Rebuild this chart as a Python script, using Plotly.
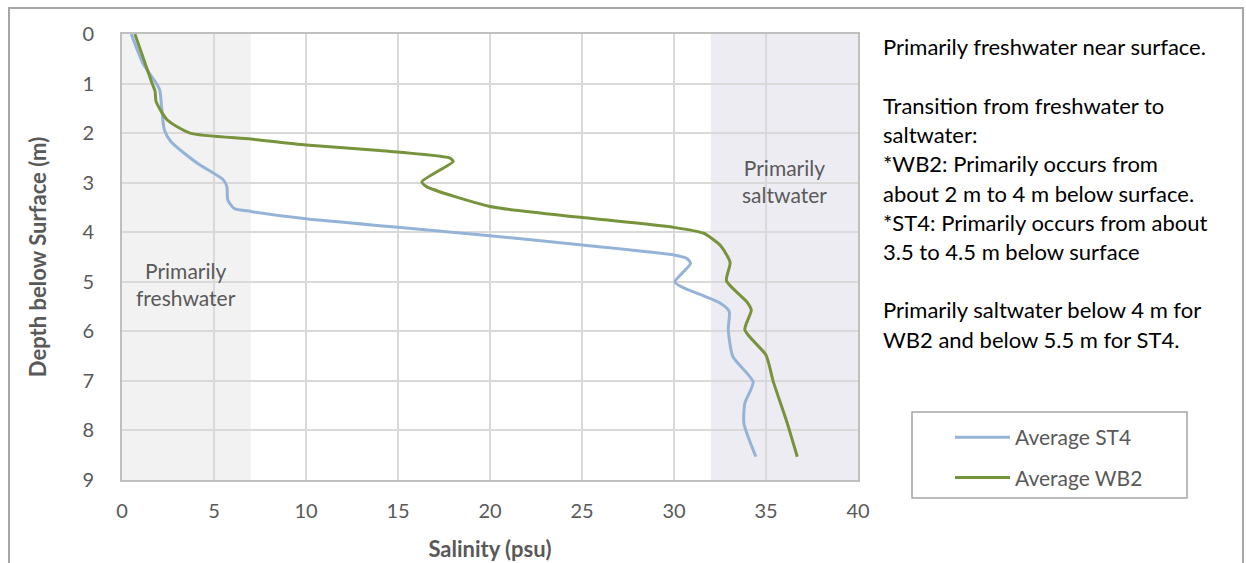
import plotly.graph_objects as go

# ---- data ----
st4_salinity = [0.5, 1.15, 1.8, 2.05, 2.15, 2.3, 2.65, 4.1, 5.5, 5.7, 5.75, 6.1, 7.0, 10.0, 15.0,
                20.0, 25.0, 30.0, 30.7, 30.9, 30.05, 30.4, 32.5, 33.0, 32.95, 33.2, 34.3, 33.85, 33.8, 34.45]
st4_depth = [0.0, 0.6, 0.96, 1.13, 1.46, 1.93, 2.17, 2.61, 2.94, 3.08, 3.35, 3.52, 3.58, 3.73, 3.9,
             4.07, 4.26, 4.46, 4.53, 4.63, 5.0, 5.1, 5.43, 5.6, 5.97, 6.51, 7.02, 7.45, 7.86, 8.53]

wb2_salinity = [0.7, 1.6, 1.8, 1.85, 2.45, 3.7, 7.0, 10.0, 14.0, 17.8, 18.0, 16.3, 16.55, 20.0, 24.9,
                29.95, 31.6, 32.5, 33.05, 32.85, 33.95, 34.2, 33.85, 35.0, 35.4, 36.1, 36.7]
wb2_depth = [0.0, 0.96, 1.16, 1.36, 1.73, 2.0, 2.12, 2.24, 2.35, 2.5, 2.57, 2.98, 3.08, 3.48, 3.7,
             3.9, 4.02, 4.26, 4.61, 4.98, 5.4, 5.57, 5.97, 6.48, 7.02, 7.79, 8.53]

series_names = ["Average ST4", "Average WB2"]
x_ticks = [0, 5, 10, 15, 20, 25, 30, 35, 40]
y_ticks = [0, 1, 2, 3, 4, 5, 6, 7, 8, 9]
fresh_band = [0, 7]
salt_band = [32, 40]

note_lines = [
    "Primarily freshwater near surface.",
    "",
    "Transition from freshwater to",
    "saltwater:",
    "*WB2: Primarily occurs from",
    "about 2 m to 4 m below surface.",
    "*ST4: Primarily occurs from about",
    "3.5 to 4.5 m below surface",
    "",
    "Primarily saltwater below 4 m for",
    "WB2 and below 5.5 m for ST4.",
]

FONT = "Lato"
TXT = "#595959"

# plot-area pixel geometry
L, R, T, B = 122, 858, 34, 480
W, H = 1246, 563


def px(x):
    return (x - L) / (R - L)


def py(y):
    return (B - y) / (B - T)


fig = go.Figure()
fig.add_trace(go.Scatter(x=st4_salinity, y=st4_depth, mode="lines", name=series_names[0],
                         line=dict(color="#95B3D7", width=3, shape="spline", smoothing=0.6),
                         legendgroup="a"))
fig.add_trace(go.Scatter(x=wb2_salinity, y=wb2_depth, mode="lines", name=series_names[1],
                         line=dict(color="#77933C", width=3, shape="spline", smoothing=0.6),
                         legendgroup="b"))

shapes = [
    dict(type="rect", xref="x", yref="paper", x0=fresh_band[0], x1=fresh_band[1], y0=0, y1=1,
         fillcolor="#F2F2F2", line_width=0, layer="below"),
    dict(type="rect", xref="x", yref="paper", x0=salt_band[0], x1=salt_band[1], y0=0, y1=1,
         fillcolor="#EEECF3", line_width=0, layer="below"),
    dict(type="rect", xref="paper", yref="paper", x0=px(9), x1=px(1243), y0=py(600), y1=py(8),
         line=dict(color="#A6A6A6", width=2), fillcolor="rgba(0,0,0,0)"),
    # legend frame
    dict(type="rect", xref="paper", yref="paper", x0=px(912), x1=px(1187), y0=py(498), y1=py(412),
         line=dict(color="#A6A6A6", width=1.5), fillcolor="rgba(0,0,0,0)"),
]

annotations = [
    dict(text="Primarily<br>freshwater", x=3.5, xref="x", y=py(284), yref="paper",
         yanchor="middle", showarrow=False, font=dict(family=FONT, size=21, color=TXT), align="center"),
    dict(text="Primarily<br>saltwater", x=36, xref="x", y=py(181), yref="paper",
         yanchor="middle", showarrow=False, font=dict(family=FONT, size=21, color=TXT), align="center"),
]
y0 = 47
for i, line in enumerate(note_lines):
    if not line:
        continue
    annotations.append(dict(text=line, x=px(881), xref="paper", xanchor="left",
                            y=py(y0 + i * 29.2), yref="paper", yanchor="middle",
                            showarrow=False, font=dict(family=FONT, size=22, color="#000000")))

fig.update_layout(
    width=W, height=H,
    margin=dict(l=L, r=W - R, t=T, b=H - B, autoexpand=False),
    paper_bgcolor="white", plot_bgcolor="white",
    font=dict(family=FONT, size=20, color=TXT),
    shapes=shapes, annotations=annotations,
    legend=dict(x=px(950), y=py(417), xanchor="left", yanchor="top",
                borderwidth=0, bgcolor="rgba(0,0,0,0)",
                font=dict(family=FONT, size=21, color=TXT),
                tracegroupgap=10, itemwidth=55),
    showlegend=True,
)
fig.update_xaxes(range=[0, 40], tickvals=x_ticks, showgrid=True, gridcolor="#D9D9D9", gridwidth=2,
                 showline=True, linecolor="#BFBFBF", linewidth=2, mirror=True, zeroline=False,
                 ticks="", ticklabelstandoff=12, automargin=False,
                 title=dict(text="<b>Salinity (psu)</b>", font=dict(family=FONT, size=22, color=TXT),
                            standoff=21))
fig.update_yaxes(range=[9, 0], tickvals=y_ticks, showgrid=True, gridcolor="#D9D9D9", gridwidth=2,
                 showline=True, linecolor="#BFBFBF", linewidth=2, mirror=True, zeroline=False,
                 ticks="", ticklabelstandoff=22, automargin=False,
                 title=dict(text="<b>Depth below Surface (m)</b>", font=dict(family=FONT, size=22, color=TXT),
                            standoff=30))

fig.write_html("out.html")
